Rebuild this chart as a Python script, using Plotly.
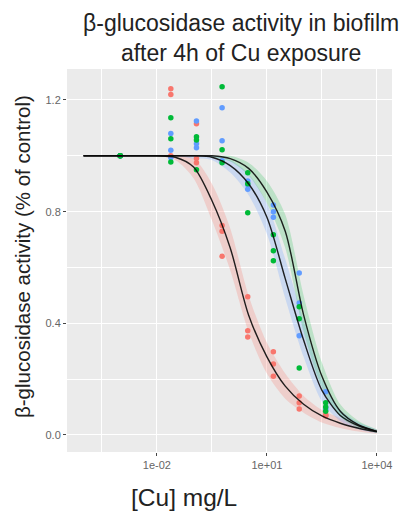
import plotly.graph_objects as go

# ---- data ----
conc = [0.001, 0.024, 0.12, 0.6, 3.0, 15.0, 76.0, 400.0]

red_y = [[1.0, 1.0, 1.0], [1.24, 1.22, 1.0], [1.115, 0.975, 0.99], [0.75, 0.73, 0.64],
         [0.495, 0.373, 0.351], [0.298, 0.254, 0.21], [0.14, 0.115, 0.093], [0.072, 0.07, 0.068]]
blue_y = [[1.0, 1.0, 1.0], [1.08, 1.02, 0.993], [1.125, 1.043, 1.029], [1.172, 1.054, 0.982],
          [0.91, 0.896, 0.88], [0.824, 0.78, 0.80], [0.58, 0.473, 0.355], [0.155, 0.097, 0.09]]
green_y = [[1.0, 1.0, 1.0], [1.136, 1.061, 0.978], [1.068, 1.057, 0.95], [1.247, 1.022, 0.975],
           [0.939, 0.90, 0.796], [0.717, 0.66, 0.624], [0.459, 0.416, 0.24], [0.115, 0.10, 0.085]]

curve_x = [1e-4, 1e-3, 1e-2, 0.0316, 0.1, 0.316, 1.0, 3.16, 10.0, 31.6, 100.0, 316.0, 1000.0, 3162.0, 1e4]

red_fit = [1.0, 1.0, 1.0, 0.995, 0.96, 0.84, 0.67, 0.43, 0.28, 0.175, 0.11, 0.068, 0.042, 0.024, 0.011]
red_lo = [1.0, 1.0, 1.0, 0.985, 0.92, 0.77, 0.59, 0.37, 0.22, 0.13, 0.08, 0.045, 0.025, 0.012, 0.004]
red_hi = [1.0, 1.0, 1.0, 1.0, 0.99, 0.90, 0.74, 0.50, 0.33, 0.22, 0.14, 0.09, 0.06, 0.035, 0.02]

blue_fit = [1.0, 1.0, 1.0, 1.0, 1.0, 0.995, 0.965, 0.90, 0.78, 0.56, 0.34, 0.16, 0.07, 0.033, 0.013]
blue_lo = [1.0, 1.0, 1.0, 1.0, 0.99, 0.985, 0.94, 0.86, 0.72, 0.49, 0.28, 0.12, 0.05, 0.02, 0.006]
blue_hi = [1.0, 1.0, 1.0, 1.0, 1.0, 1.0, 0.985, 0.935, 0.83, 0.63, 0.41, 0.20, 0.09, 0.045, 0.02]

green_fit = [1.0, 1.0, 1.0, 1.0, 1.0, 1.0, 0.99, 0.955, 0.87, 0.73, 0.43, 0.21, 0.085, 0.036, 0.013]
green_lo = [1.0, 1.0, 1.0, 1.0, 1.0, 0.995, 0.98, 0.93, 0.83, 0.67, 0.37, 0.17, 0.065, 0.025, 0.007]
green_hi = [1.0, 1.0, 1.0, 1.0, 1.0, 1.0, 1.0, 0.975, 0.91, 0.79, 0.50, 0.26, 0.11, 0.05, 0.02]

x_ticks = [1e-2, 1e1, 1e4]
x_ticktext = ["1e-02", "1e+01", "1e+04"]
y_ticks = [0.0, 0.4, 0.8, 1.2]
y_ticktext = ["0.0", "0.4", "0.8", "1.2"]

title_text = "β-glucosidase activity in biofilm<br>after 4h of Cu exposure"
x_title = "[Cu] mg/L"
y_title = "β-glucosidase activity (% of control)"

series = [
    ("red", "#F8766D", "rgba(248,118,109,0.25)", red_y, red_fit, red_lo, red_hi),
    ("blue", "#619CFF", "rgba(97,156,255,0.24)", blue_y, blue_fit, blue_lo, blue_hi),
    ("green", "#00BA38", "rgba(0,186,56,0.2)", green_y, green_fit, green_lo, green_hi),
]

fig = go.Figure()

# confidence bands
for name, col, fillcol, pts, fit, lo, hi in series:
    fig.add_trace(go.Scatter(x=curve_x, y=lo, mode="lines", line=dict(width=0, shape="spline", smoothing=0.8),
                             hoverinfo="skip", showlegend=False))
    fig.add_trace(go.Scatter(x=curve_x, y=hi, mode="lines", line=dict(width=0, shape="spline", smoothing=0.8),
                             fill="tonexty", fillcolor=fillcol, hoverinfo="skip", showlegend=False))

# points
for name, col, fillcol, pts, fit, lo, hi in series:
    xs = [c for c, reps in zip(conc, pts) for _ in reps]
    ys = [v for reps in pts for v in reps]
    fig.add_trace(go.Scatter(x=xs, y=ys, mode="markers", name=name,
                             marker=dict(color=col, size=5.5), showlegend=False))

# fitted curves
for name, col, fillcol, pts, fit, lo, hi in series:
    fig.add_trace(go.Scatter(x=curve_x, y=fit, mode="lines",
                             line=dict(color="rgba(10,10,10,0.9)", width=1.4, shape="spline", smoothing=0.8),
                             showlegend=False))

# figure is drawn 8 px in from the page corner (page body margin)
W, H = 406, 503
ML, MR, MT, MB = 59, 22, 61, 59
PW, PH = W - ML - MR, H - MT - MB


def px(xp):
    return (xp - 8 - ML) / PW


def py(yp):
    return 1 - (yp - 8 - MT) / PH


fig.update_layout(
    width=W, height=H,
    margin=dict(l=ML, r=MR, t=MT, b=MB, autoexpand=False),
    paper_bgcolor="white",
    plot_bgcolor="#EBEBEB",
    font=dict(family="Liberation Sans, Arial, sans-serif", color="#222"),
    annotations=[
        dict(text=title_text, xref="paper", yref="paper", x=px(241), y=py(8),
             xanchor="center", yanchor="top", showarrow=False, align="center",
             font=dict(size=23, color="#222")),
        dict(text=x_title, xref="paper", yref="paper", x=px(184), y=py(497),
             xanchor="center", yanchor="middle", showarrow=False, font=dict(size=24.5, color="#222")),
        dict(text=y_title, xref="paper", yref="paper", x=px(22), y=py(257),
             xanchor="center", yanchor="middle", textangle=-90, showarrow=False,
             font=dict(size=20.5, color="#222")),
    ],
)

fig.update_xaxes(
    type="log", range=[-4.45, 4.41], automargin=False,
    tickvals=x_ticks, ticktext=x_ticktext,
    tickfont=dict(size=11, color="#666"),
    ticks="outside", ticklen=3, tickcolor="#444", tickwidth=1,
    showgrid=True, gridcolor="white", gridwidth=1.1,
    minor=dict(tickvals=[10 ** -3.5, 10 ** -0.5, 10 ** 2.5], showgrid=True, gridcolor="white", gridwidth=0.5, ticks=""),
    zeroline=False, showline=False,
)
fig.update_yaxes(
    range=[-0.061, 1.311], automargin=False,
    tickvals=y_ticks, ticktext=y_ticktext,
    tickfont=dict(size=11, color="#666"),
    ticks="outside", ticklen=3, tickcolor="#444", tickwidth=1,
    showgrid=True, gridcolor="white", gridwidth=1.1,
    minor=dict(tickvals=[0.2, 0.6, 1.0], showgrid=True, gridcolor="white", gridwidth=0.5, ticks=""),
    zeroline=False, showline=False,
)

fig.write_html("out.html")
